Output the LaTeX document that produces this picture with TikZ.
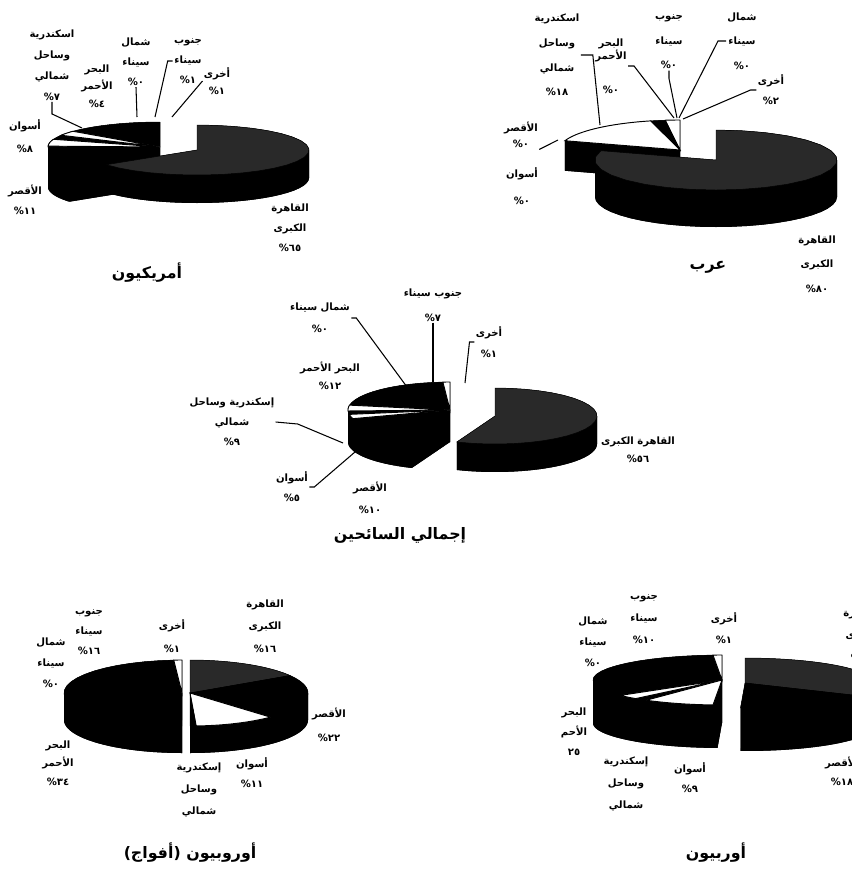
\documentclass[tikz,border=0pt]{standalone}
\usepackage{fontspec}
\newfontfamily\arabicfont[Script=Arabic]{DejaVu Sans}
\TeXXeTstate=1
\newcommand{\rl}[1]{\beginR #1\endR}
\newcommand{\pcnt}[1]{\%\kern0pt#1}
%% solid part of a pie slice: centre, radii, depth, angles
\newcommand{\slabbody}[7]{%
  \fill[black] (#1,#2+#5) -- plot[domain=#6:#7,samples=25] ({#1+#3*cos(\x)},{#2+#5-#4*sin(\x)}) -- cycle;
  \fill[black] plot[domain=#6:#7,samples=25] ({#1+#3*cos(\x)},{#2-#4*sin(\x)})
    -- plot[domain=#7:#6,samples=25] ({#1+#3*cos(\x)},{#2+#5-#4*sin(\x)}) -- cycle;
  \fill[black] (#1,#2) -- ({#1+#3*cos(#6)},{#2-#4*sin(#6)}) -- ({#1+#3*cos(#6)},{#2+#5-#4*sin(#6)}) -- (#1,#2+#5) -- cycle;
  \fill[black] (#1,#2) -- ({#1+#3*cos(#7)},{#2-#4*sin(#7)}) -- ({#1+#3*cos(#7)},{#2+#5-#4*sin(#7)}) -- (#1,#2+#5) -- cycle;
}
%% top face of a pie slice
\newcommand{\slabtop}[7]{%
  \filldraw[#7] (#1,#2) -- plot[domain=#5:#6,samples=25] ({#1+#3*cos(\x)},{#2-#4*sin(\x)}) -- cycle;
}
\tikzset{
  lbl/.style={font=\arabicfont\bfseries\fontsize{8.6}{#1}\selectfont, align=center, inner sep=1pt},
  lbl/.default=18,
  ttl/.style={font=\arabicfont\bfseries\fontsize{13.5}{15}\selectfont, inner sep=1pt},
  leader/.style={line width=0.9pt},
  blacktop/.style={fill=black, draw=black, line width=0.4pt},
  whitetop/.style={fill=white, draw=black, line width=0.8pt},
  cairotop/.style={fill=black!84, draw=black, line width=0.4pt}
}
\begin{document}
\begin{tikzpicture}[x=0.3mm,y=-0.3mm]
\useasboundingbox (0,0) rectangle (852,870);
\clip (0,0) rectangle (852,870);
\fill[white] (0,0) rectangle (852,870);

%% americans
\slabbody{160}{147}{112}{25}{40}{90}{180}
\slabbody{160}{147}{112}{25}{40}{180}{216}
\slabtop{160}{147}{112}{25}{90}{216}{blacktop}
\slabtop{160}{147}{112}{25}{141}{152}{whitetop}
\slabtop{160}{147}{112}{25}{162}{178}{whitetop}
\slabbody{197}{150}{112}{25}{28}{216}{360}
\slabbody{197}{150}{112}{25}{28}{360}{450}
\slabtop{197}{150}{112}{25}{216}{450}{cairotop}

\node[lbl] (a1) at (52,65) {اسكندرية\\وساحل\\شمالي\\\pcnt{٧}};
\node[lbl=15] (a2) at (97,86) {البحر\\الأحمر\\\pcnt{٤}};
\node[lbl=17] (a3) at (136,62) {شمال\\سيناء\\\pcnt{٠}};
\node[lbl=17] (a4) at (188,61) {جنوب\\سيناء\\\pcnt{١}};
\node[lbl=15] (a5) at (217,81) {أخرى\\\pcnt{١}};
\node[lbl=19] (a6) at (25,136) {أسوان\\\pcnt{٨}};
\node[lbl=17] (a7) at (25,200) {الأقصر\\\pcnt{١١}};
\node[lbl=17] (a8) at (290,228) {القاهرة\\الكبرى\\\pcnt{٦٥}};
\node[ttl] (a9) at (147,273) {أمريكيون};
\coordinate (a1t) at (82,128);
\coordinate (a3t) at (137,117);
\coordinate (a4t) at (155,117);
\coordinate (a5t) at (172,117);
\draw[leader] (a1.south) -- ++(0,12) -- (a1t);
\draw[leader] (a3.south) -- (a3t);
\draw[leader] (a4.west) -- ++(-5,0) -- (a4t);
\draw[leader] (a5.west) -- (a5t);

%% arabs
\slabbody{680}{150}{121}{30}{30}{90}{162}
\slabtop{680}{150}{121}{30}{90}{97}{whitetop}
\slabtop{680}{150}{121}{30}{97}{104}{blacktop}
\slabtop{680}{150}{121}{30}{104}{162}{whitetop}
\slabbody{716}{160}{121}{30}{37}{162}{180}
\slabbody{716}{160}{121}{30}{37}{180}{360}
\slabbody{716}{160}{121}{30}{37}{360}{450}
\slabtop{716}{160}{121}{30}{162}{450}{cairotop}

\node[lbl=21] (r1) at (557,55) {اسكندرية\\وساحل\\شمالي\\\pcnt{١٨}};
\node[lbl] (r2) at (611,66) {البحر\\[-7pt]الأحمر\\[11pt]\pcnt{٠}};
\node[lbl=21] (r3) at (669,42) {جنوب\\سيناء\\\pcnt{٠}};
\node[lbl=21] (r4) at (742,41) {شمال\\سيناء\\\pcnt{٠}};
\node[lbl=17] (r5) at (771,90) {أخرى\\\pcnt{٢}};
\node[lbl=14] (r6) at (521,135) {الأقصر\\\pcnt{٠}};
\node[lbl=23] (r7) at (522,186) {أسوان\\\pcnt{٠}};
\node[lbl=21] (r8) at (817,264) {القاهرة\\الكبرى\\\pcnt{٨٠}};
\node[ttl] (r9) at (708,267) {عرب};
\coordinate (r1t) at (600,125);
\coordinate (r2t) at (674,118);
\coordinate (r3t) at (677,118);
\coordinate (r4t) at (679,118);
\coordinate (r5t) at (683,119);
\coordinate (r6t) at (558,140);
\draw[leader] (r1.east) -- ++(12,0) -- (r1t);
\draw[leader] (r2.east) -- ++(6,0) -- (r2t);
\draw[leader] (r3.south) -- ++(0,8) -- (r3t);
\draw[leader] (r4.west) -- ++(-8,0) -- (r4t);
\draw[leader] (r5.west) -- ++(-6,0) -- (r5t);
\draw[leader] (r6.south east) -- (r6t);

%% all tourists
\slabbody{450}{410}{102}{28}{32}{90}{180}
\slabbody{450}{410}{102}{28}{32}{180}{248}
\slabtop{450}{410}{102}{28}{94}{248}{blacktop}
\slabtop{450}{410}{102}{28}{90}{94}{whitetop}
\slabtop{450}{410}{102}{28}{170}{182}{whitetop}
\slabtop{450}{410}{102}{28}{189}{198}{whitetop}
\slabbody{495}{416}{102}{28}{28}{248}{360}
\slabbody{495}{416}{102}{28}{28}{360}{450}
\slabtop{495}{416}{102}{28}{248}{450}{cairotop}

\node[lbl=19] (t1) at (320,318) {\rl{شمال سيناء}\\\pcnt{٠}};
\node[lbl=21] (t2) at (433,305) {\rl{جنوب سيناء}\\\pcnt{٧}};
\node[lbl=18] (t3) at (489,342) {أخرى\\\pcnt{١}};
\node[lbl=15] (t4) at (330,376) {\rl{البحر الأحمر}\\\pcnt{١٢}};
\node[lbl=17] (t5) at (232,422) {\rl{إسكندرية وساحل}\\شمالي\\\pcnt{٩}};
\node[lbl=17] (t6) at (292,487) {أسوان\\\pcnt{٥}};
\node[lbl=19] (t7) at (370,498) {الأقصر\\\pcnt{١٠}};
\node[lbl=15] (t8) at (638,450) {\rl{القاهرة الكبرى}\\\pcnt{٥٦}};
\node[ttl] (t9) at (400,535) {\rl{إجمالي السائحين}};
\coordinate (t1t) at (407,387);
\coordinate (t2t) at (433,382);
\coordinate (t3t) at (465,383);
\coordinate (t5t) at (343,443);
\coordinate (t6t) at (355,452);
\draw[leader] (t1.east) -- ++(5,0) -- (t1t);
\draw[leader] (t2.south) -- (t2t);
\draw[leader] (t3.west) -- ++(-5,0) -- (t3t);
\draw[leader] (t5.east) -- ++(22,2) -- (t5t);
\draw[leader] (t6.east) -- ++(5,0) -- (t6t);

%% europeans (groups)
\slabbody{182}{693}{118}{33}{27}{90}{180}
\slabbody{182}{693}{118}{33}{27}{180}{270}
\slabtop{182}{693}{118}{33}{94}{270}{blacktop}
\slabtop{182}{693}{118}{33}{90}{94}{whitetop}
\slabbody{190}{693}{118}{33}{27}{-90}{0}
\slabbody{190}{693}{118}{33}{27}{0}{90}
\slabtop{190}{693}{118}{33}{32}{90}{cairotop}
\slabtop{190}{693}{118}{33}{-47}{32}{blacktop}
\slabtop{190}{693}{118}{33}{-87}{-47}{whitetop}
\slabtop{190}{693}{118}{33}{-90}{-87}{blacktop}

\node[lbl=17] (g1) at (89,632) {جنوب\\سيناء\\\pcnt{١٦}};
\node[lbl=18] (g2) at (51,663) {شمال\\سيناء\\\pcnt{٠}};
\node[lbl=19] (g3) at (172,636) {أخرى\\\pcnt{١}};
\node[lbl=19] (g4) at (265,626) {القاهرة\\الكبرى\\\pcnt{١٦}};
\node[lbl=20] (g5) at (329,725) {الأقصر\\\pcnt{٢٢}};
\node[lbl=17] (g6) at (252,773) {أسوان\\\pcnt{١١}};
\node[lbl=19] (g7) at (199,790) {إسكندرية\\وساحل\\شمالي};
\node[lbl=16] (g8) at (58,763) {البحر\\الأحمر\\\pcnt{٣٤}};
\node[ttl] (g9) at (190,853) {\rl{أوروبيون (\kern0pt أفواج\kern0pt)}};

%% europeans
\slabbody{722}{680}{129}{25}{43}{90}{180}
\slabbody{722}{680}{129}{25}{43}{180}{268}
\slabtop{722}{680}{129}{25}{94}{268}{blacktop}
\slabtop{722}{680}{129}{25}{90}{94}{whitetop}
\slabtop{722}{680}{129}{25}{218}{228}{whitetop}
\slabtop{722}{680}{129}{25}{234}{266}{whitetop}
\slabbody{745}{683}{129}{25}{43}{-92}{0}
\slabbody{745}{683}{129}{25}{43}{0}{90}
\slabtop{745}{683}{129}{25}{-30}{90}{cairotop}
\slabtop{745}{683}{129}{25}{-92}{-30}{blacktop}

\node[lbl=19] (e1) at (644,619) {جنوب\\سيناء\\\pcnt{١٠}};
\node[lbl=18] (e2) at (593,642) {شمال\\سيناء\\\pcnt{٠}};
\node[lbl=18] (e3) at (724,628) {أخرى\\\pcnt{١}};
\node[lbl=17] (e4) at (574,732) {البحر\\الأحم\\٢٥};
\node[lbl=19] (e5) at (626,784) {إسكندرية\\وساحل\\شمالي};
\node[lbl=17] (e6) at (690,778) {أسوان\\\pcnt{٩}};
\node[lbl=16] (e7) at (842,771) {الأقصر\\\pcnt{١٨}};
\node[lbl=19] (e8) at (862,635) {القاهرة\\الكبرى\\\pcnt{٣٧}};
\node[ttl] (e9) at (716,853) {أوربيون};
\end{tikzpicture}
\end{document}
